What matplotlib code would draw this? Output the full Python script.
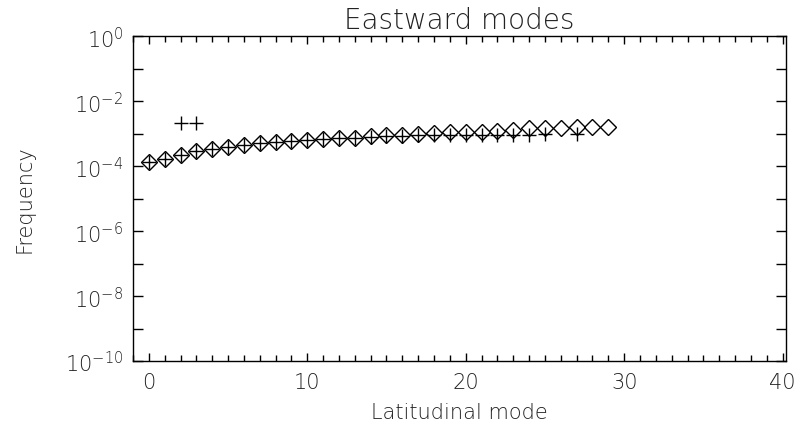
import numpy as np
import matplotlib
matplotlib.use('Agg')
import matplotlib.pyplot as plt
from matplotlib.ticker import FixedLocator, FuncFormatter

# --- eastward mode frequencies vs latitudinal mode number ---
modes_diamond = list(range(30))
freq_diamond = [1.30e-4, 1.64e-4, 2.23e-4, 2.96e-4, 3.34e-4, 3.76e-4, 4.43e-4, 5.0e-4,
                5.37e-4, 5.75e-4, 6.3e-4, 6.8e-4, 7.1e-4, 7.6e-4, 8.2e-4, 9.0e-4,
                9.2e-4, 9.7e-4, 1.01e-3, 1.09e-3, 1.12e-3, 1.14e-3, 1.22e-3, 1.33e-3,
                1.45e-3, 1.48e-3, 1.50e-3, 1.62e-3, 1.58e-3, 1.60e-3]

modes_plus = list(range(26)) + [27, 2, 3]
freq_plus = [1.30e-4, 1.64e-4, 2.23e-4, 2.96e-4, 3.34e-4, 3.76e-4, 4.43e-4, 5.0e-4,
             5.37e-4, 5.75e-4, 6.3e-4, 6.8e-4, 7.1e-4, 7.6e-4, 8.0e-4, 8.5e-4,
             8.6e-4, 8.8e-4, 8.9e-4, 9.0e-4, 9.0e-4, 9.1e-4, 9.2e-4, 9.2e-4,
             9.3e-4, 9.6e-4, 1.0e-3, 2.1e-3, 2.1e-3]

y_major = [1e-10, 1e-8, 1e-6, 1e-4, 1e-2, 1e0]
y_minor = [1e-9, 1e-7, 1e-5, 1e-3, 1e-1]
x_major = [0, 10, 20, 30, 40]

plt.rcParams['font.family'] = ['DejaVu Sans']
plt.rcParams['font.weight'] = 'light'
plt.rcParams['axes.titleweight'] = 'light'
plt.rcParams['axes.labelweight'] = 'light'
plt.rcParams['mathtext.fontset'] = 'custom'
plt.rcParams['mathtext.rm'] = 'DejaVu Sans:light'
plt.rcParams['mathtext.default'] = 'rm'

txt_color = '#222222'

fig = plt.figure(figsize=(8.01, 4.27), dpi=100)
ax = fig.add_axes([0.166, 0.152, 0.815, 0.761])

ax.plot(modes_diamond, freq_diamond, linestyle='none', marker='D', markersize=8,
        markerfacecolor='none', markeredgecolor='black', markeredgewidth=1.0)
ax.plot(modes_plus, freq_plus, linestyle='none', marker='+', markersize=10,
        color='black', markeredgewidth=1.0)

ax.set_yscale('log')
ax.set_xlim(-1, 40.2)
ax.set_ylim(1e-10, 1e0)

ax.yaxis.set_major_locator(FixedLocator(y_major))
ax.yaxis.set_minor_locator(FixedLocator(y_minor))
ax.yaxis.set_major_formatter(FuncFormatter(lambda v, p: r'$10^{%d}$' % round(np.log10(v))))
ax.yaxis.set_minor_formatter(FuncFormatter(lambda v, p: ''))
ax.xaxis.set_major_locator(FixedLocator(x_major))
ax.xaxis.set_minor_locator(FixedLocator(list(range(-1, 41))))

ax.tick_params(axis='both', which='both', direction='in', top=True, right=True,
               width=1.0, color='black', labelcolor=txt_color)
ax.tick_params(axis='x', which='major', length=6, labelsize=15, pad=8)
ax.tick_params(axis='x', which='minor', length=4)
ax.tick_params(axis='y', which='both', length=7)
ax.tick_params(axis='y', which='major', labelsize=15, pad=7)
for s in ax.spines.values():
    s.set_linewidth(1.0)

ax.set_title('Eastward modes', fontsize=20, pad=6, fontweight='light', color=txt_color)
ax.set_xlabel('Latitudinal mode', fontsize=15, labelpad=7, fontweight='light', color=txt_color)
ax.set_ylabel('Frequency', fontsize=15, labelpad=22, fontweight='light', color=txt_color)

fig.savefig('out.png', dpi=100)
